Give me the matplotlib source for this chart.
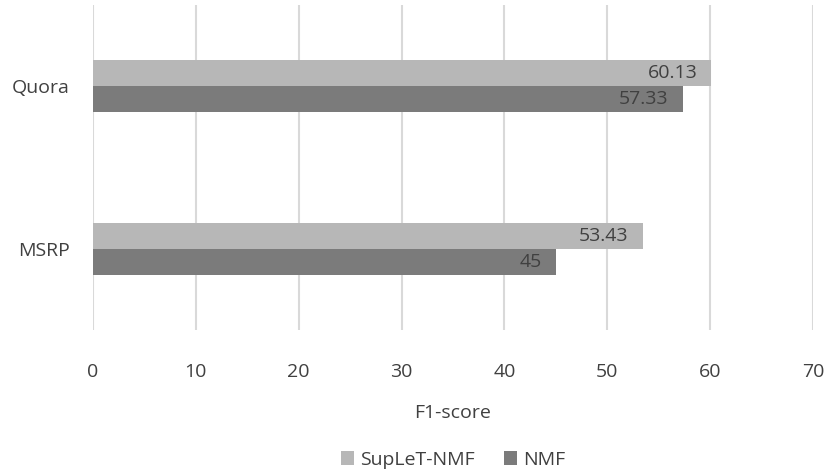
import matplotlib.pyplot as plt
import numpy as np

plt.rcParams['font.family'] = ['Open Sans', 'DejaVu Sans']

datasets = ['MSRP', 'Quora']
suplet_nmf = [53.43, 60.13]
nmf = [45, 57.33]
value_labels_suplet = ['53.43', '60.13']
value_labels_nmf = ['45', '57.33']

color_light = '#b7b7b7'
color_dark = '#7b7b7b'
text_color = '#404040'
fs = 14

fig = plt.figure(figsize=(8.26, 4.74), dpi=100)
ax = fig.add_axes([93 / 826, 1 - 330 / 474, 720 / 826, 325 / 474])

y = np.arange(len(datasets))
h = 0.16
ax.barh(y + h / 2, suplet_nmf, height=h, color=color_light, label='SupLeT-NMF', zorder=3)
ax.barh(y - h / 2, nmf, height=h, color=color_dark, label='NMF', zorder=3)

# inside-end value labels
for yy, v, lab in zip(y + h / 2, suplet_nmf, value_labels_suplet):
    ax.annotate(lab, (v, yy), xytext=(-14, 0), textcoords='offset pixels',
                ha='right', va='center', fontsize=fs, color=text_color, zorder=4)
for yy, v, lab in zip(y - h / 2, nmf, value_labels_nmf):
    ax.annotate(lab, (v, yy), xytext=(-14, 0), textcoords='offset pixels',
                ha='right', va='center', fontsize=fs, color=text_color, zorder=4)

ax.set_xlim(0, 70)
ax.set_ylim(-0.5, 1.5)
ax.set_xticks(range(0, 71, 10))
ax.set_yticks(y)
ax.set_yticklabels(datasets)
ax.grid(axis='x', color='#d9d9d9', linewidth=1.5, zorder=0)
for s in ax.spines.values():
    s.set_visible(False)
ax.tick_params(length=0, labelsize=fs, labelcolor=text_color)
ax.tick_params(axis='y', pad=17)
ax.tick_params(axis='x', pad=24)
ax.set_xlabel('F1-score', fontsize=fs, color=text_color, labelpad=16)

ax.legend(loc='center', bbox_to_anchor=(0.5, -0.4), ncol=2, frameon=False,
          fontsize=fs, labelcolor=text_color, handlelength=0.7, handleheight=0.7,
          handletextpad=0.3, columnspacing=1.5)

plt.savefig('out.png', dpi=100)
